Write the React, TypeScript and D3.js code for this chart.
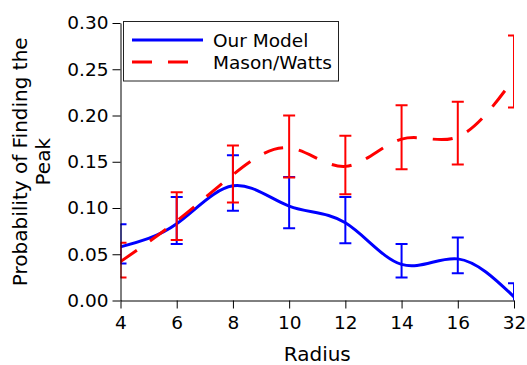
import React, { useEffect, useRef } from "react";
import * as d3 from "d3";

const categories = ["4", "6", "8", "10", "12", "14", "16", "32"];
const ourModel = [0.058, 0.083, 0.124, 0.102, 0.084, 0.039, 0.045, 0.004];
const ourLow = [0.040, 0.061, 0.097, 0.078, 0.062, 0.025, 0.0295, -0.01];
const ourHigh = [0.0825, 0.112, 0.157, 0.1335, 0.112, 0.061, 0.068, 0.0186];
const mason = [0.042, 0.086, 0.136, 0.165, 0.145, 0.1745, 0.177, 0.240];
const masonLow = [0.025, 0.0655, 0.106, 0.133, 0.115, 0.142, 0.147, 0.2087];
const masonHigh = [0.0625, 0.117, 0.1675, 0.2, 0.178, 0.211, 0.215, 0.2866];
const yTicks = [0, 0.05, 0.1, 0.15, 0.2, 0.25, 0.3];
const legendLabels = ["Our Model", "Mason/Watts"];

const W = 527;
const H = 365;
const left = 120.5;
const right = 514;
const top = 23;
const bottom = 300.5;
const FONT = "DejaVu Sans";
const BLUE = "#0000ff";
const RED = "#ff0000";

export default function App() {
  const xRef = useRef<SVGGElement>(null);
  const yRef = useRef<SVGGElement>(null);

  const x = d3.scalePoint<string>().domain(categories).range([left, right]);
  const y = d3.scaleLinear().domain([0, 0.3]).range([bottom, top]);

  useEffect(() => {
    const xa = d3.axisBottom(x).tickSize(8).tickSizeOuter(0).tickPadding(7.5);
    const ya = d3
      .axisLeft(y)
      .tickValues(yTicks)
      .tickFormat(d3.format(".2f"))
      .tickSize(8)
      .tickSizeOuter(0)
      .tickPadding(4);
    const gx = d3.select(xRef.current!);
    gx.call(xa as any);
    const gy = d3.select(yRef.current!);
    gy.call(ya as any);
    [gx, gy].forEach((g) => {
      g.attr("font-family", FONT).attr("font-size", 18.5);
      g.selectAll("text").attr("fill", "#000");
      g.selectAll("line").attr("stroke", "#000");
      g.select(".domain").attr("stroke", "#000");
    });
  }, []);

  const series = [
    { vals: ourModel, lo: ourLow, hi: ourHigh, color: BLUE, dash: undefined as string | undefined },
    { vals: mason, lo: masonLow, hi: masonHigh, color: RED, dash: "20 16" },
  ];

  const line = d3
    .line<number>()
    .x((_, i) => x(categories[i])!)
    .y((d) => y(d))
    .curve(d3.curveNatural);

  const cap = 6;

  return (
    <svg
      width={W}
      height={H}
      style={{ position: "absolute", left: 0, top: 0, background: "#fff" }}
    >
      <defs>
        <clipPath id="plot">
          <rect x={left} y={top} width={right - left} height={bottom - top} />
        </clipPath>
      </defs>
      <g clipPath="url(#plot)">
        {series.map((s, si) => (
          <g key={si}>
            <path
              d={line(s.vals)!}
              fill="none"
              stroke={s.color}
              strokeWidth={3}
              strokeDasharray={s.dash}
            />
            {categories.map((c, i) => {
              const cx = x(c)!;
              return (
                <g key={c} stroke={s.color} strokeWidth={2}>
                  <line x1={cx} x2={cx} y1={y(s.lo[i])} y2={y(s.hi[i])} />
                  <line x1={cx - cap} x2={cx + cap} y1={y(s.lo[i])} y2={y(s.lo[i])} />
                  <line x1={cx - cap} x2={cx + cap} y1={y(s.hi[i])} y2={y(s.hi[i])} />
                </g>
              );
            })}
          </g>
        ))}
      </g>
      <g ref={xRef} transform={`translate(0,${bottom})`} />
      <g ref={yRef} transform={`translate(${left},0)`} />

      <g>
        <rect x={123.5} y={21.5} width={215} height={59.5} fill="#fff" stroke="#222" strokeWidth={1} />
        <line x1={132} x2={203} y1={40} y2={40} stroke={BLUE} strokeWidth={3} />
        <line x1={132} x2={203} y1={62} y2={62} stroke={RED} strokeWidth={3} strokeDasharray="20 16" />
        <text x={213} y={46.5} fontFamily={FONT} fontSize={18.5} fill="#000">
          {legendLabels[0]}
        </text>
        <text x={213} y={69} fontFamily={FONT} fontSize={18.5} fill="#000">
          {legendLabels[1]}
        </text>
      </g>

      <text
        x={(left + right) / 2}
        y={361}
        textAnchor="middle"
        fontFamily={FONT}
        fontSize={20}
        fill="#000"
      >
        Radius
      </text>
      <g transform={`translate(0,${(top + bottom) / 2}) rotate(-90)`}>
        <text x={0} y={27} textAnchor="middle" fontFamily={FONT} fontSize={20} fill="#000">
          Probability of Finding the
        </text>
        <text x={0} y={50} textAnchor="middle" fontFamily={FONT} fontSize={20} fill="#000">
          Peak
        </text>
      </g>
    </svg>
  );
}
